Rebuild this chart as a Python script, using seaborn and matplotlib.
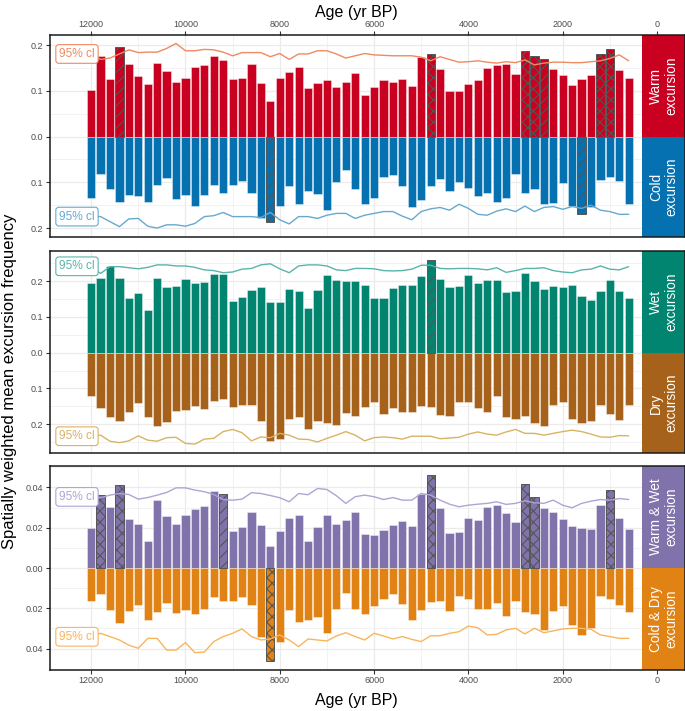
import matplotlib
matplotlib.use("Agg")
import matplotlib.pyplot as plt
import matplotlib.transforms as mtransforms
from matplotlib.patches import Rectangle
from matplotlib.ticker import FixedLocator, FuncFormatter, MultipleLocator
import pandas as pd
import seaborn as sns

sns.set_theme(style="white")
plt.rcParams['font.family'] = ['Liberation Sans', 'DejaVu Sans']
plt.rcParams['hatch.linewidth'] = 0.8

# ---------------- data ----------------
ages = [12000, 11800, 11600, 11400, 11200, 11000, 10800, 10600, 10400, 10200,
        10000, 9800, 9600, 9400, 9200, 9000, 8800, 8600, 8400, 8200,
        8000, 7800, 7600, 7400, 7200, 7000, 6800, 6600, 6400, 6200,
        6000, 5800, 5600, 5400, 5200, 5000, 4800, 4600, 4400, 4200,
        4000, 3800, 3600, 3400, 3200, 3000, 2800, 2600, 2400, 2200,
        2000, 1800, 1600, 1400, 1200, 1000, 800, 600]

warm = [0.102, 0.176, 0.127, 0.196, 0.160, 0.132, 0.115, 0.161, 0.143, 0.120,
        0.128, 0.153, 0.157, 0.176, 0.167, 0.127, 0.129, 0.159, 0.118, 0.078,
        0.128, 0.141, 0.152, 0.107, 0.118, 0.123, 0.109, 0.120, 0.139, 0.091,
        0.108, 0.124, 0.120, 0.126, 0.111, 0.174, 0.180, 0.147, 0.099, 0.099,
        0.116, 0.124, 0.150, 0.156, 0.160, 0.137, 0.188, 0.176, 0.169, 0.147,
        0.136, 0.112, 0.126, 0.134, 0.182, 0.191, 0.145, 0.128]
cold = [0.134, 0.082, 0.115, 0.142, 0.127, 0.129, 0.144, 0.106, 0.091, 0.137,
        0.128, 0.152, 0.128, 0.106, 0.123, 0.106, 0.096, 0.123, 0.179, 0.187,
        0.152, 0.109, 0.147, 0.120, 0.126, 0.161, 0.099, 0.072, 0.115, 0.147,
        0.135, 0.088, 0.084, 0.107, 0.155, 0.138, 0.109, 0.093, 0.120, 0.099,
        0.112, 0.131, 0.123, 0.142, 0.135, 0.081, 0.124, 0.115, 0.148, 0.146,
        0.102, 0.151, 0.170, 0.153, 0.095, 0.089, 0.096, 0.148]
warm_ci = [0.181, 0.169, 0.172, 0.181, 0.190, 0.184, 0.185, 0.185, 0.193, 0.204,
           0.188, 0.188, 0.191, 0.190, 0.185, 0.177, 0.184, 0.184, 0.184, 0.175,
           0.182, 0.169, 0.181, 0.181, 0.188, 0.188, 0.181, 0.172, 0.177, 0.182,
           0.179, 0.178, 0.177, 0.177, 0.177, 0.174, 0.166, 0.175, 0.169, 0.163,
           0.164, 0.166, 0.163, 0.161, 0.164, 0.162, 0.168, 0.157, 0.161, 0.163,
           0.163, 0.162, 0.162, 0.164, 0.166, 0.171, 0.179, 0.166]
cold_ci = [0.175, 0.175, 0.186, 0.197, 0.180, 0.179, 0.196, 0.200, 0.193, 0.193,
           0.196, 0.190, 0.175, 0.173, 0.166, 0.175, 0.175, 0.175, 0.177, 0.166,
           0.182, 0.191, 0.175, 0.175, 0.179, 0.172, 0.168, 0.168, 0.179, 0.172,
           0.168, 0.164, 0.164, 0.174, 0.182, 0.164, 0.158, 0.155, 0.161, 0.148,
           0.157, 0.170, 0.172, 0.163, 0.158, 0.164, 0.152, 0.164, 0.155, 0.153,
           0.159, 0.153, 0.157, 0.150, 0.161, 0.164, 0.170, 0.170]

wet = [0.195, 0.209, 0.243, 0.210, 0.152, 0.167, 0.119, 0.210, 0.183, 0.187,
       0.207, 0.194, 0.198, 0.220, 0.221, 0.145, 0.157, 0.176, 0.183, 0.142,
       0.143, 0.178, 0.174, 0.125, 0.177, 0.219, 0.203, 0.201, 0.201, 0.191,
       0.152, 0.154, 0.182, 0.189, 0.191, 0.216, 0.260, 0.206, 0.184, 0.187,
       0.218, 0.194, 0.205, 0.204, 0.171, 0.173, 0.223, 0.202, 0.179, 0.187,
       0.184, 0.189, 0.160, 0.148, 0.174, 0.204, 0.173, 0.154]
dry = [0.121, 0.156, 0.179, 0.192, 0.167, 0.140, 0.180, 0.205, 0.193, 0.164,
       0.161, 0.150, 0.157, 0.134, 0.131, 0.151, 0.146, 0.147, 0.191, 0.247,
       0.241, 0.187, 0.179, 0.214, 0.190, 0.198, 0.203, 0.170, 0.176, 0.153,
       0.138, 0.172, 0.154, 0.167, 0.165, 0.149, 0.153, 0.175, 0.178, 0.139,
       0.139, 0.156, 0.166, 0.122, 0.180, 0.186, 0.177, 0.196, 0.205, 0.146,
       0.139, 0.186, 0.196, 0.191, 0.147, 0.173, 0.189, 0.146]
wet_ci = [0.242, 0.222, 0.241, 0.241, 0.238, 0.235, 0.239, 0.246, 0.246, 0.243,
          0.243, 0.239, 0.232, 0.230, 0.224, 0.226, 0.234, 0.236, 0.246, 0.249,
          0.235, 0.224, 0.243, 0.246, 0.246, 0.243, 0.232, 0.230, 0.236, 0.236,
          0.235, 0.230, 0.229, 0.230, 0.234, 0.245, 0.245, 0.236, 0.235, 0.236,
          0.236, 0.235, 0.232, 0.238, 0.225, 0.230, 0.236, 0.236, 0.238, 0.230,
          0.226, 0.224, 0.232, 0.234, 0.243, 0.234, 0.232, 0.241]
dry_ci = [0.234, 0.231, 0.248, 0.252, 0.247, 0.233, 0.245, 0.248, 0.238, 0.237,
          0.254, 0.256, 0.242, 0.240, 0.221, 0.215, 0.224, 0.247, 0.236, 0.238,
          0.226, 0.231, 0.242, 0.243, 0.250, 0.240, 0.231, 0.221, 0.231, 0.247,
          0.238, 0.236, 0.238, 0.242, 0.234, 0.234, 0.234, 0.241, 0.239, 0.237,
          0.228, 0.222, 0.228, 0.231, 0.222, 0.215, 0.226, 0.226, 0.231, 0.226,
          0.221, 0.217, 0.221, 0.228, 0.236, 0.237, 0.232, 0.233]

warm_wet = [0.0197, 0.0365, 0.0304, 0.0412, 0.0241, 0.0220, 0.0134, 0.0336, 0.0258, 0.0221,
            0.0263, 0.0293, 0.0306, 0.0382, 0.0367, 0.0183, 0.0202, 0.0276, 0.0213, 0.0107,
            0.0182, 0.0248, 0.0261, 0.0134, 0.0203, 0.0264, 0.0217, 0.0237, 0.0276, 0.0170,
            0.0162, 0.0187, 0.0215, 0.0233, 0.0207, 0.0370, 0.0464, 0.0299, 0.0175, 0.0180,
            0.0248, 0.0238, 0.0301, 0.0312, 0.0273, 0.0231, 0.0417, 0.0352, 0.0299, 0.0276,
            0.0245, 0.0208, 0.0197, 0.0193, 0.0312, 0.0385, 0.0248, 0.0192]
cold_dry = [0.0162, 0.0129, 0.0208, 0.0271, 0.0213, 0.0182, 0.0260, 0.0217, 0.0175, 0.0225,
            0.0208, 0.0228, 0.0202, 0.0142, 0.0162, 0.0162, 0.0142, 0.0182, 0.0340, 0.0460,
            0.0367, 0.0207, 0.0266, 0.0260, 0.0241, 0.0324, 0.0202, 0.0125, 0.0205, 0.0226,
            0.0187, 0.0152, 0.0131, 0.0180, 0.0258, 0.0207, 0.0170, 0.0164, 0.0213, 0.0137,
            0.0155, 0.0205, 0.0205, 0.0174, 0.0238, 0.0165, 0.0220, 0.0228, 0.0306, 0.0212,
            0.0188, 0.0281, 0.0332, 0.0298, 0.0139, 0.0155, 0.0182, 0.0218]
warm_wet_ci = [0.0353, 0.0349, 0.0362, 0.0370, 0.0365, 0.0342, 0.0350, 0.0362, 0.0375, 0.0398,
               0.0398, 0.0387, 0.0379, 0.0365, 0.0340, 0.0337, 0.0342, 0.0374, 0.0370, 0.0360,
               0.0349, 0.0329, 0.0370, 0.0364, 0.0395, 0.0390, 0.0359, 0.0321, 0.0354, 0.0362,
               0.0354, 0.0340, 0.0350, 0.0337, 0.0337, 0.0370, 0.0362, 0.0337, 0.0317, 0.0304,
               0.0312, 0.0317, 0.0321, 0.0329, 0.0316, 0.0321, 0.0334, 0.0324, 0.0321, 0.0337,
               0.0312, 0.0299, 0.0321, 0.0332, 0.0340, 0.0337, 0.0345, 0.0340]
cold_dry_ci = [0.0341, 0.0324, 0.0340, 0.0357, 0.0383, 0.0398, 0.0349, 0.0349, 0.0407, 0.0407,
               0.0370, 0.0420, 0.0417, 0.0365, 0.0340, 0.0324, 0.0302, 0.0340, 0.0357, 0.0352,
               0.0332, 0.0357, 0.0390, 0.0352, 0.0357, 0.0362, 0.0337, 0.0321, 0.0340, 0.0357,
               0.0324, 0.0337, 0.0352, 0.0340, 0.0354, 0.0365, 0.0336, 0.0336, 0.0324, 0.0316,
               0.0288, 0.0296, 0.0332, 0.0329, 0.0307, 0.0299, 0.0327, 0.0299, 0.0321, 0.0312,
               0.0302, 0.0299, 0.0299, 0.0304, 0.0332, 0.0340, 0.0349, 0.0349]

# significance markers (ages): "/" = single hatch, "x" = cross hatch
warm_hatch = {11400: '/', 2400: '/', 4800: 'x', 2800: 'x', 2600: 'x', 1200: 'x', 1000: 'x'}
cold_hatch = {8200: '/', 1600: '/'}
wet_hatch = {4800: '/'}
dry_hatch = {}
warm_wet_hatch = {11800: 'x', 11400: 'x', 9200: '/', 4800: 'x', 2800: 'x', 2600: 'x', 1000: 'x'}
cold_dry_hatch = {8200: 'x'}

age_ticks = [12000, 10000, 8000, 6000, 4000, 2000, 0]

strip_labels = [("Warm\nexcursion", "Cold\nexcursion"),
                ("Wet\nexcursion", "Dry\nexcursion"),
                ("Warm & Wet\nexcursion", "Cold & Dry\nexcursion")]

# ---------------- layout / style ----------------
W, H = 685, 711
fig = plt.figure(figsize=(W / 100, H / 100), dpi=100)
LEFT, RIGHT = 49.5, 684.5
XLIM = (12883, -583)
STRIP_START = 312

panels = [
    dict(top=35, bottom=236.7, ylim=(-0.219, 0.2225), pos=warm, neg=cold,
         ci_pos=warm_ci, ci_neg=cold_ci, cpos='#CA0020', cneg='#0571B0',
         lpos='#EF8A62', lneg='#67A9CF', hpos=warm_hatch, hneg=cold_hatch,
         major=[-0.2, -0.1, 0.0, 0.1, 0.2], minor=[-0.15, -0.05, 0.05, 0.15],
         fmt='{:.1f}', labels=strip_labels[0]),
    dict(top=250.7, bottom=453.3, ylim=(-0.2818, 0.2857), pos=wet, neg=dry,
         ci_pos=wet_ci, ci_neg=dry_ci, cpos='#018571', cneg='#A6611A',
         lpos='#5AB4AC', lneg='#D8B365', hpos=wet_hatch, hneg=dry_hatch,
         major=[-0.2, -0.1, 0.0, 0.1, 0.2], minor=[-0.25, -0.15, -0.05, 0.05, 0.15, 0.25],
         fmt='{:.1f}', labels=strip_labels[1]),
    dict(top=465.7, bottom=670, ylim=(-0.0506, 0.0508), pos=warm_wet, neg=cold_dry,
         ci_pos=warm_wet_ci, ci_neg=cold_dry_ci, cpos='#8073AC', cneg='#E08214',
         lpos='#ADA5D4', lneg='#F9B55C', hpos=warm_wet_hatch, hneg=cold_dry_hatch,
         major=[-0.04, -0.02, 0.0, 0.02, 0.04], minor=[-0.05, -0.03, -0.01, 0.01, 0.03, 0.05],
         fmt='{:.2f}', labels=strip_labels[2]),
]

n = len(ages)
for i, P in enumerate(panels):
    ax = fig.add_axes([LEFT / W, 1 - P['bottom'] / H, (RIGHT - LEFT) / W,
                       (P['bottom'] - P['top']) / H])
    df = pd.DataFrame({
        'age': ages + ages,
        'value': list(P['pos']) + [-v for v in P['neg']],
        'kind': ['pos'] * n + ['neg'] * n,
    })
    sns.barplot(data=df, x='age', y='value', hue='kind',
                palette={'pos': P['cpos'], 'neg': P['cneg']},
                native_scale=True, dodge=False, width=0.87, errorbar=None,
                legend=False, ax=ax, edgecolor=(1, 1, 1, 0.45), linewidth=0.6,
                saturation=1, zorder=2)

    # hatching on significant bars
    for p in list(ax.patches):
        xc = p.get_x() + p.get_width() / 2
        age = min(ages, key=lambda a: abs(a - xc))
        hmap = P['hpos'] if p.get_height() > 0 else P['hneg']
        if age in hmap:
            h = '///' if hmap[age] == '/' else 'xxx'
            ax.add_patch(Rectangle((p.get_x(), p.get_y()), p.get_width(), p.get_height(),
                                   fill=False, hatch=h, edgecolor='#555555', lw=0.7,
                                   zorder=2.2))

    sns.lineplot(x=ages, y=P['ci_pos'], color=P['lpos'], lw=1.0, ax=ax, zorder=3)
    sns.lineplot(x=ages, y=[-v for v in P['ci_neg']], color=P['lneg'], lw=1.0, ax=ax, zorder=3)

    for yv, col in ((P['ci_pos'][0], P['lpos']), (-P['ci_neg'][0], P['lneg'])):
        ax.text(12300, yv, '95% cl', color=col, fontsize=8.6, ha='center', va='center',
                zorder=5,
                bbox=dict(boxstyle='round,pad=0.28,rounding_size=0.25', fc='white',
                          ec=col, lw=0.8))

    ax.set_xlim(*XLIM)
    ax.set_ylim(*P['ylim'])
    y0, y1 = P['ylim']

    # side strips
    ax.add_patch(Rectangle((STRIP_START, 0), XLIM[1] - STRIP_START, y1,
                           facecolor=P['cpos'], lw=0, zorder=1.5))
    ax.add_patch(Rectangle((STRIP_START, y0), XLIM[1] - STRIP_START, -y0,
                           facecolor=P['cneg'], lw=0, zorder=1.5))
    trans = mtransforms.blended_transform_factory(ax.transAxes, ax.transData)
    ax.text(0.9677, y1 / 2, P['labels'][0], transform=trans, rotation=90, color='white',
            fontsize=9.8, ha='center', va='center', multialignment='center',
            linespacing=1.15, zorder=4)
    ax.text(0.9677, y0 / 2, P['labels'][1], transform=trans, rotation=90, color='white',
            fontsize=9.8, ha='center', va='center', multialignment='center',
            linespacing=1.15, zorder=4)

    # grid / ticks
    ax.set_axisbelow(True)
    ax.xaxis.set_major_locator(FixedLocator(age_ticks))
    ax.xaxis.set_minor_locator(MultipleLocator(1000))
    ax.xaxis.set_major_formatter(FuncFormatter(lambda v, p: f"{int(round(v))}"))
    ax.yaxis.set_major_locator(FixedLocator(P['major']))
    ax.yaxis.set_minor_locator(FixedLocator(P['minor']))
    fmt = P['fmt']
    ax.yaxis.set_major_formatter(FuncFormatter(lambda v, p, fmt=fmt: fmt.format(abs(v))))
    ax.grid(which='major', color='#EBEBEB', lw=0.9)
    ax.grid(which='minor', color='#EBEBEB', lw=0.45)
    ax.set_xlabel('')
    ax.set_ylabel('')
    for s in ax.spines.values():
        s.set_color('#1A1A1A')
        s.set_linewidth(1.1)
        s.set_zorder(6)

    ax.tick_params(axis='y', which='major', left=True, length=3, width=0.8,
                   color='#333333', labelsize=6.5, labelcolor='#4D4D4D', pad=1.5)
    ax.tick_params(axis='both', which='minor', length=0)
    if i == 0:
        ax.tick_params(axis='x', which='major', top=True, bottom=False, labeltop=True,
                       labelbottom=False, length=3, width=0.8, color='#333333',
                       labelsize=6.5, labelcolor='#4D4D4D', pad=1.5)
    elif i == 2:
        ax.tick_params(axis='x', which='major', top=False, bottom=True, labeltop=False,
                       labelbottom=True, length=3, width=0.8, color='#333333',
                       labelsize=6.5, labelcolor='#4D4D4D', pad=1.5)
    else:
        ax.tick_params(axis='x', which='major', top=False, bottom=False, labeltop=False,
                       labelbottom=False)

fig.text(356 / W, 1 - 12 / H, 'Age (yr BP)', ha='center', va='center', fontsize=11.5,
         color='black')
fig.text(356 / W, 1 - 700 / H, 'Age (yr BP)', ha='center', va='center', fontsize=11.5,
         color='black')
fig.text(10 / W, 1 - 381 / H, 'Spatially weighted mean excursion frequency',
         rotation=90, ha='center', va='center', fontsize=12, color='black')

fig.savefig('out.png', dpi=100, facecolor='white')
